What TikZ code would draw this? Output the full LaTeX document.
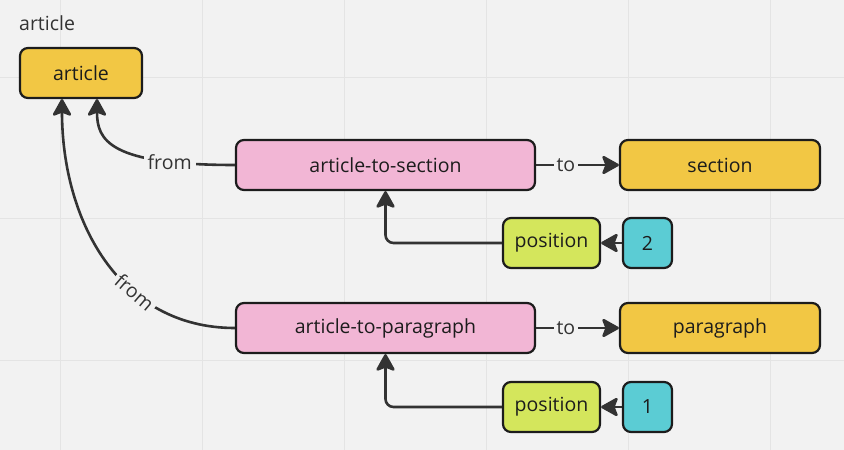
\documentclass[tikz,border=0pt]{standalone}
\usepackage{fontspec}
\setmainfont{Open Sans}
\usetikzlibrary{arrows.meta,calc}
\definecolor{bg}{HTML}{F2F2F2}
\definecolor{gridc}{HTML}{E4E4E4}
\definecolor{ylw}{HTML}{F2C744}
\definecolor{pnk}{HTML}{F2B6D5}
\definecolor{lime}{HTML}{D4E65C}
\definecolor{cyn}{HTML}{5BCCD4}
\definecolor{ink}{HTML}{333333}
\definecolor{edge}{HTML}{1C1C1C}
\tikzset{
  box/.style={draw=edge, line width=2.2pt, rounded corners=8pt, minimum height=50pt,
    inner sep=0pt, text=edge, font=\fontsize{19.5}{23}\selectfont},
  conn/.style={draw=ink, line width=2.6pt, -{Stealth[length=19pt,width=21pt,inset=4pt,round]}},
  lbl/.style={fill=bg, text=ink, inner sep=4pt, font=\fontsize{19.5}{23}\selectfont},
}
\begin{document}
\begin{tikzpicture}[x=1pt,y=-1pt]
\fill[bg] (0,0) rectangle (844,450);
\useasboundingbox (0,0) rectangle (844,450);
\foreach \gx in {60,202,344,486,628,770} \draw[gridc, line width=1pt] (\gx,0) -- (\gx,450);
\foreach \gy in {77,218,360} \draw[gridc, line width=1pt] (0,\gy) -- (844,\gy);

\node[anchor=west, text=ink, font=\fontsize{19.5}{23}\selectfont, inner sep=0pt] (title) at (19,23) {article};

\node[box, fill=ylw, minimum width=122pt] (art) at (81,73) {article};
\node[box, fill=pnk, minimum width=299pt] (ats) at (385.5,165) {article-to-section};
\node[box, fill=ylw, minimum width=200pt] (sec) at (720,165) {section};
\node[box, fill=lime, minimum width=97pt] (posa) at (551.5,243) {position};
\node[box, fill=cyn, minimum width=49pt] (two) at (647.5,243) {2};
\node[box, fill=pnk, minimum width=299pt] (atp) at (385.5,328) {article-to-paragraph};
\node[box, fill=ylw, minimum width=200pt] (par) at (720,328) {paragraph};
\node[box, fill=lime, minimum width=97pt] (posb) at (551.5,407) {position};
\node[box, fill=cyn, minimum width=49pt] (one) at (647.5,407) {1};

\coordinate (artR) at ([xshift=16pt]art.south);
\coordinate (artL) at ([xshift=-19pt]art.south);

\draw[conn] (ats.west) .. controls +(-126,0) and +(0,41) .. (artR)
  node[lbl, pos=0.21] {from};
\draw[conn] (atp.west) .. controls +(-116,0) and +(0,121) .. (artL)
  node[lbl, pos=0.35, sloped, inner sep=3pt] {from};
\draw[conn] (ats.east) -- (sec.west) node[lbl, pos=0.36, inner sep=3pt] {to};
\draw[conn] (atp.east) -- (par.west) node[lbl, pos=0.36, inner sep=3pt] {to};
\draw[conn, rounded corners=8pt] (posa.west) -| (ats.south);
\draw[conn, rounded corners=8pt] (posb.west) -| (atp.south);
\draw[conn] (two.west) -- (posa.east);
\draw[conn] (one.west) -- (posb.east);
\end{tikzpicture}
\end{document}
